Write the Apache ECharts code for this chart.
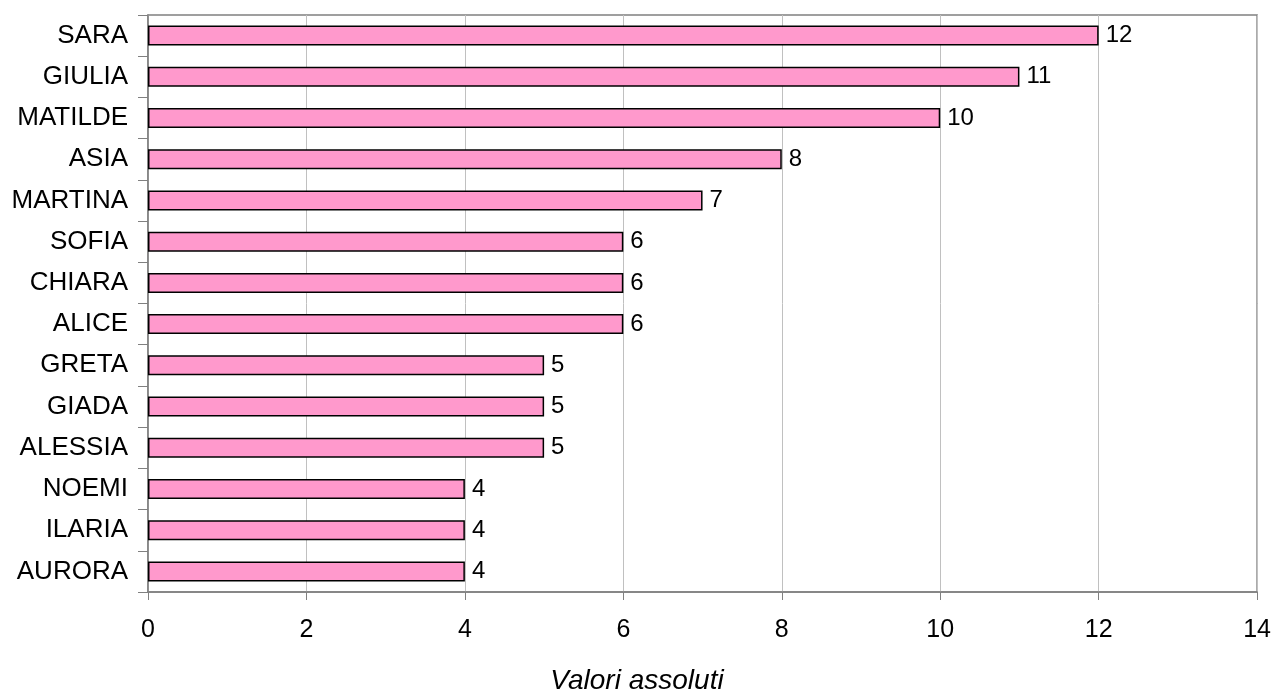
<!DOCTYPE html>
<html>
<head>
<meta charset="utf-8">
<script src="https://cdn.jsdelivr.net/npm/echarts@6/dist/echarts.min.js"></script>
<style>
  html, body { margin: 0; padding: 0; background: #ffffff; }
  #chart { width: 1274px; height: 699px; }
</style>
</head>
<body>
<div id="chart"></div>
<script>
// Nomi (dall'alto verso il basso) e frequenze assolute
const names = ['SARA', 'GIULIA', 'MATILDE', 'ASIA', 'MARTINA', 'SOFIA', 'CHIARA', 'ALICE', 'GRETA', 'GIADA', 'ALESSIA', 'NOEMI', 'ILARIA', 'AURORA'];
const counts = [12, 11, 10, 8, 7, 6, 6, 6, 5, 5, 5, 4, 4, 4];
const axisTitle = 'Valori assoluti';

const font = '"Liberation Sans", Arial, sans-serif';
const chart = echarts.init(document.getElementById('chart'), null, { renderer: 'canvas' });

chart.setOption({
  animation: false,
  backgroundColor: '#ffffff',
  grid: {
    left: 148, right: 16, top: 15, bottom: 107,
    show: true, borderColor: '#808080', borderWidth: 1.5, backgroundColor: 'transparent'
  },
  // titolo dell'asse orizzontale, centrato sulla pagina
  graphic: [{
    type: 'text',
    left: 'center',
    top: 667,
    style: {
      text: axisTitle,
      font: 'italic 28px ' + font,
      fill: '#000'
    }
  }],
  xAxis: {
    type: 'value',
    min: 0, max: 14, interval: 2,
    axisLine: { show: true, lineStyle: { color: '#808080', width: 1.5 } },
    axisTick: { show: true, length: 8, lineStyle: { color: '#808080' } },
    axisLabel: { fontFamily: font, fontSize: 25, color: '#000', margin: 26 },
    splitLine: { show: true, lineStyle: { color: '#c0c0c0', width: 1 } }
  },
  yAxis: {
    type: 'category',
    data: names,
    inverse: true,
    axisLine: { show: true, lineStyle: { color: '#808080', width: 1.5 } },
    axisTick: { show: true, length: 10, lineStyle: { color: '#808080' } },
    axisLabel: { fontFamily: font, fontSize: 26, color: '#000', margin: 20 },
    splitLine: { show: false }
  },
  series: [{
    type: 'bar',
    data: counts,
    barWidth: 20,
    itemStyle: { color: '#ff99cc', borderColor: '#000', borderWidth: 1.5 },
    label: {
      show: true, position: 'right', distance: 7,
      fontFamily: font, fontSize: 24, color: '#000'
    }
  }]
});
</script>
</body>
</html>
